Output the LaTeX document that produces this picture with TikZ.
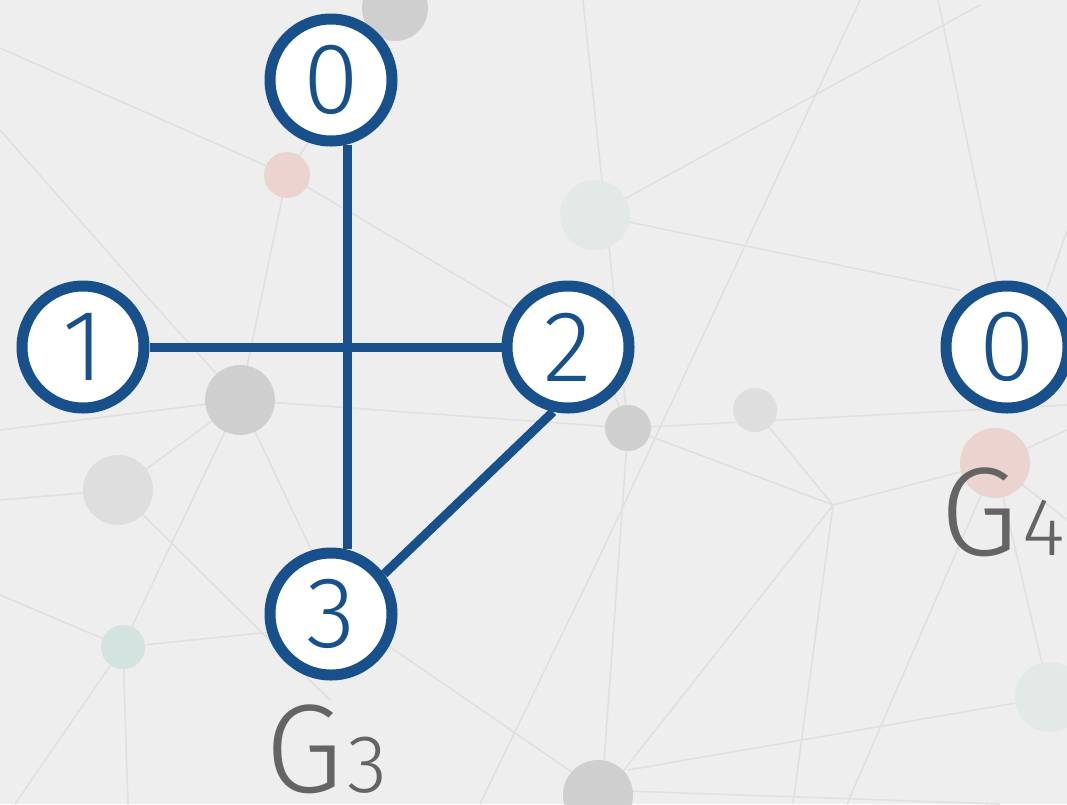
\documentclass[tikz,border=0pt]{standalone}
\usepackage{fontspec}
\newfontfamily\lightfont{Fira Sans Light}
\definecolor{nodeblue}{HTML}{17508A}
\definecolor{bgcol}{HTML}{EEEEEE}
\definecolor{netline}{HTML}{E0E0E0}
\definecolor{labelgray}{HTML}{646464}
\definecolor{dotgray}{HTML}{CFCFCF}
\definecolor{dotlight}{HTML}{DEDEDE}
\definecolor{dotred}{HTML}{EBD4D0}
\definecolor{dotteal}{HTML}{D3E3DF}
\definecolor{dotfaint}{HTML}{E3E9E7}
\pgfdeclarelayer{bg}
\pgfdeclarelayer{edges}
\pgfsetlayers{bg,edges,main}
\begin{document}
\begin{tikzpicture}[x=1pt,y=-1pt,
  vertex/.style={circle,draw=nodeblue,line width=11pt,fill=white,minimum size=122pt,inner sep=0pt,text=nodeblue,font=\lightfont\fontsize{101}{101}\selectfont},
  edge/.style={draw=nodeblue,line width=9pt},
  net/.style={draw=netline,line width=1.6pt},
  glabel/.style={text=labelgray,inner sep=0pt,font=\lightfont}
]
\useasboundingbox (0,0) rectangle (1067,804);
\begin{pgfonlayer}{bg}
\fill[bgcol] (0,0) rectangle (1067,804);
% faint network lines
\draw[net] (0,48) -- (287,175) -- (395,8);
\draw[net] (287,175) -- (240,400);
\draw[net] (0,130) -- (150,300) -- (240,400);
\draw[net] (0,430) -- (240,400) -- (628,428) -- (1067,405);
\draw[net] (240,400) -- (135,620) -- (123,647);
\draw[net] (240,400) -- (335,600);
\draw[net] (0,595) -- (123,647) -- (340,625);
\draw[net] (123,647) -- (128,804);
\draw[net] (123,647) -- (15,804);
\draw[net] (0,500) -- (118,490) -- (240,400);
\draw[net] (118,490) -- (330,700);
\draw[net] (287,175) -- (600,360) -- (628,428);
\draw[net] (583,0) -- (628,428);
\draw[net] (860,0) -- (598,560) -- (480,804);
\draw[net] (595,215) -- (980,5);
\draw[net] (595,215) -- (960,290);
\draw[net] (938,0) -- (1000,300);
\draw[net] (1067,230) -- (1040,310);
\draw[net] (628,428) -- (602,790);
\draw[net] (628,428) -- (833,505) -- (995,463) -- (1067,430);
\draw[net] (833,505) -- (793,804);
\draw[net] (833,505) -- (620,775);
\draw[net] (995,463) -- (847,804);
\draw[net] (995,463) -- (1050,697) -- (1067,700);
\draw[net] (628,770) -- (1050,697);
\draw[net] (755,410) -- (833,505);
\draw[net] (995,463) -- (1067,520);
\draw[net] (598,790) -- (380,640);
\draw[net] (598,790) -- (1000,804);
% faint network dots
\fill[dotgray] (395,8) circle (33);
\fill[dotred] (287,175) circle (23);
\fill[dotfaint] (595,215) circle (35);
\fill[dotgray] (240,400) circle (35);
\fill[dotlight] (118,490) circle (35);
\fill[dotgray] (628,428) circle (23);
\fill[dotlight] (755,410) circle (22);
\fill[dotred] (995,463) circle (35);
\fill[dotteal] (123,647) circle (22);
\fill[dotfaint] (1050,697) circle (35);
\fill[dotgray] (598,795) circle (35);
\end{pgfonlayer}
% vertices
\node[vertex] (n0) at (331,80) {0};
\node[vertex] (n1) at (83,347) {1};
\node[vertex] (n2) at (568,347) {2};
\node[vertex] (n3) at (331,614) {3};
\node[vertex] (m0) at (1007,347) {0};
% edges
\begin{pgfonlayer}{edges}
\draw[edge] (n0.284) -- (n3.76);
\draw[edge] (n1.east) -- (n2.west);
\draw[edge] (n2.257) -- (n3.37);
\end{pgfonlayer}
% labels
\node[glabel,anchor=base] (g3) at (326,792) {\fontsize{126}{126}\selectfont G\kern4pt\fontsize{82}{82}\selectfont 3};
\node[glabel,anchor=base west] (g4) at (940,555) {\fontsize{126}{126}\selectfont G\kern4pt\fontsize{82}{82}\selectfont 4};
\end{tikzpicture}
\end{document}
